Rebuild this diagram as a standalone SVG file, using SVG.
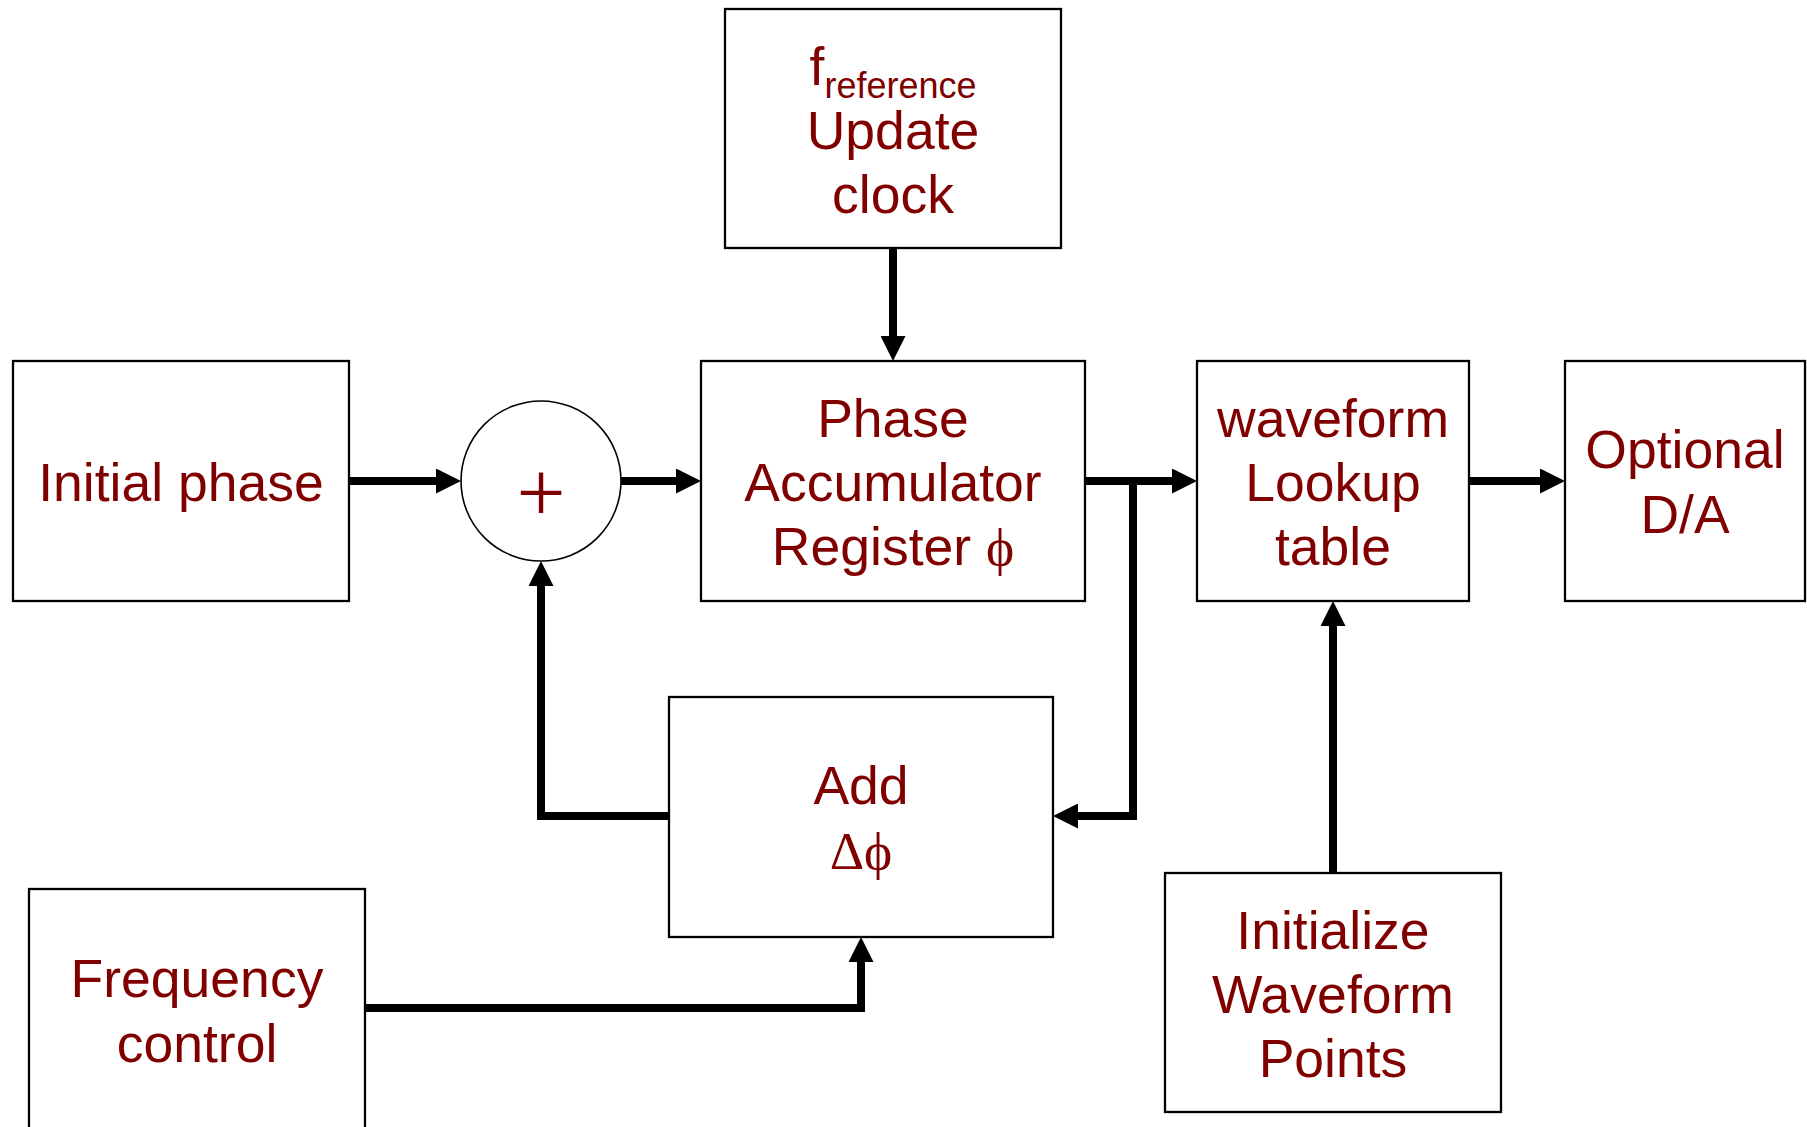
<svg xmlns="http://www.w3.org/2000/svg" width="1807" height="1127" viewBox="0 0 1807 1127">
  <defs>
    <style>
      .box { fill: #ffffff; stroke: #000000; stroke-width: 2.3; }
      .circ { fill: #ffffff; stroke: #000000; stroke-width: 1.6; }
      .lbl { font-family: "Liberation Sans", Arial, sans-serif; font-size: 53.5px; fill: #800000; text-anchor: middle; }
      .sym { font-family: "Liberation Serif", "DejaVu Serif", serif; }
      .plus { font-size: 87px; }
      .sub { font-size: 36px; }
      .conn { fill: none; stroke: #000000; stroke-width: 8; stroke-linejoin: miter; stroke-linecap: butt; }
    </style>
    <marker id="arrow" markerUnits="userSpaceOnUse" markerWidth="25" markerHeight="25" refX="4" refY="12.5" orient="auto">
      <path d="M0,0 L25,12.5 L0,25 Z" fill="#000000"/>
    </marker>
  </defs>
  <rect x="0" y="0" width="1807" height="1127" fill="#ffffff"/>

  <g id="connectors">
    <path class="conn" d="M349,481 H440" marker-end="url(#arrow)"/>
    <path class="conn" d="M621,481 H680" marker-end="url(#arrow)"/>
    <path class="conn" d="M893,248 V340" marker-end="url(#arrow)"/>
    <path class="conn" d="M1085,481 H1176" marker-end="url(#arrow)"/>
    <path class="conn" d="M1133,481 V816 H1074" marker-end="url(#arrow)"/>
    <path class="conn" d="M669,816 H541 V582" marker-end="url(#arrow)"/>
    <path class="conn" d="M365,1008 H861 V958" marker-end="url(#arrow)"/>
    <path class="conn" d="M1469,481 H1544" marker-end="url(#arrow)"/>
    <path class="conn" d="M1333,873 V622" marker-end="url(#arrow)"/>
  </g>

  <g id="update-clock">
    <rect class="box" x="725" y="9" width="336" height="239"/>
    <text class="lbl" x="893" y="85">f<tspan class="sub" dy="13">reference</tspan></text>
    <text class="lbl" x="893" y="149">Update</text>
    <text class="lbl" x="893" y="213">clock</text>
  </g>

  <g id="initial-phase">
    <rect class="box" x="13" y="361" width="336" height="240"/>
    <text class="lbl" x="181" y="501">Initial phase</text>
  </g>

  <g id="adder">
    <circle class="circ" cx="541" cy="481" r="80"/>
    <text class="lbl sym plus" x="541" y="522">+</text>
  </g>

  <g id="phase-accumulator">
    <rect class="box" x="701" y="361" width="384" height="240"/>
    <text class="lbl" x="893" y="437">Phase</text>
    <text class="lbl" x="893" y="501">Accumulator</text>
    <text class="lbl" x="893" y="565">Register <tspan class="sym">ϕ</tspan></text>
  </g>

  <g id="lookup-table">
    <rect class="box" x="1197" y="361" width="272" height="240"/>
    <text class="lbl" x="1333" y="437">waveform</text>
    <text class="lbl" x="1333" y="501">Lookup</text>
    <text class="lbl" x="1333" y="565">table</text>
  </g>

  <g id="optional-da">
    <rect class="box" x="1565" y="361" width="240" height="240"/>
    <text class="lbl" x="1685" y="468">Optional</text>
    <text class="lbl" x="1685" y="533">D/A</text>
  </g>

  <g id="add-delta-phi">
    <rect class="box" x="669" y="697" width="384" height="240"/>
    <text class="lbl" x="861" y="804">Add</text>
    <text class="lbl sym" x="861" y="869">Δϕ</text>
  </g>

  <g id="frequency-control">
    <rect class="box" x="29" y="889" width="336" height="260"/>
    <text class="lbl" x="197" y="997">Frequency</text>
    <text class="lbl" x="197" y="1062">control</text>
  </g>

  <g id="initialize-waveform">
    <rect class="box" x="1165" y="873" width="336" height="239"/>
    <text class="lbl" x="1333" y="949">Initialize</text>
    <text class="lbl" x="1333" y="1013">Waveform</text>
    <text class="lbl" x="1333" y="1077">Points</text>
  </g>
</svg>
